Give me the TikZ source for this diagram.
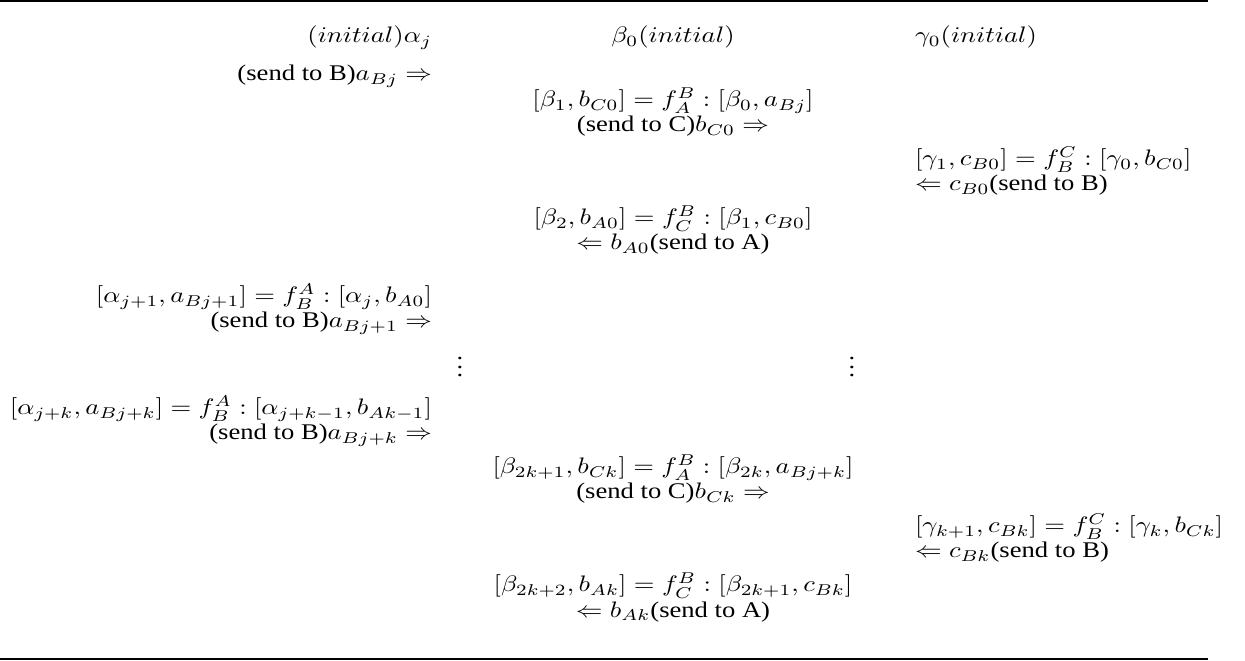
\documentclass[tikz,border=0pt]{standalone}
\usepackage[no-math]{fontspec}
\usepackage{graphicx}
\setmainfont{Liberation Serif}
\newcommand{\sq}[1]{\scalebox{0.95}[0.8]{#1}}
\begin{document}
\begin{tikzpicture}[x=0.357pt,y=-0.357pt,
  every node/.style={inner sep=0pt, outer sep=0pt},
  lft/.style={anchor=base east},
  mid/.style={anchor=base},
  rgt/.style={anchor=base west},
  rulestyle/.style={line width=0.4pt}]
\useasboundingbox (0,0) rectangle (1245,661);
\coordinate (t1) at (0,1); \coordinate (t2) at (1208,1);
\coordinate (u1) at (0,659); \coordinate (u2) at (1208,659);
\draw[rulestyle] (t1) -- (t2);
\draw[rulestyle] (u1) -- (u2);
\node[lft] (a0) at (432,43) {\sq{$(initial)\alpha_j$}};
\node[mid] (b0) at (673,43) {\sq{$\beta_0(initial)$}};
\node[rgt] (c0) at (915,43) {\sq{$\gamma_0(initial)$}};
\node[lft] (a1) at (432,81) {\sq{(send to B)$a_{Bj}\Rightarrow$}};
\node[mid] (b1) at (673,107) {\sq{$[\beta_1,b_{C0}]=f_A^B:[\beta_0,a_{Bj}]$}};
\node[mid] (b2) at (673,132) {\sq{(send to C)$b_{C0}\Rightarrow$}};
\node[rgt] (c1) at (915,166) {\sq{$[\gamma_1,c_{B0}]=f_B^C:[\gamma_0,b_{C0}]$}};
\node[rgt] (c2) at (915,191) {\sq{$\Leftarrow c_{B0}$(send to B)}};
\node[mid] (b3) at (673,225) {\sq{$[\beta_2,b_{A0}]=f_C^B:[\beta_1,c_{B0}]$}};
\node[mid] (b4) at (673,250) {\sq{$\Leftarrow b_{A0}$(send to A)}};
\node[lft] (a2) at (432,303) {\sq{$[\alpha_{j+1},a_{Bj+1}]=f_B^A:[\alpha_j,b_{A0}]$}};
\node[lft] (a3) at (432,328) {\sq{(send to B)$a_{Bj+1}\Rightarrow$}};
\node[mid] (d1) at (460,377) {\sq{$\vdots$}};
\node[mid] (d2) at (852,377) {\sq{$\vdots$}};
\node[lft] (a4) at (432,415) {\sq{$[\alpha_{j+k},a_{Bj+k}]=f_B^A:[\alpha_{j+k-1},b_{Ak-1}]$}};
\node[lft] (a5) at (432,440) {\sq{(send to B)$a_{Bj+k}\Rightarrow$}};
\node[mid] (b5) at (673,474) {\sq{$[\beta_{2k+1},b_{Ck}]=f_A^B:[\beta_{2k},a_{Bj+k}]$}};
\node[mid] (b6) at (673,499) {\sq{(send to C)$b_{Ck}\Rightarrow$}};
\node[rgt] (c3) at (915,533) {\sq{$[\gamma_{k+1},c_{Bk}]=f_B^C:[\gamma_k,b_{Ck}]$}};
\node[rgt] (c4) at (915,558) {\sq{$\Leftarrow c_{Bk}$(send to B)}};
\node[mid] (b7) at (673,592) {\sq{$[\beta_{2k+2},b_{Ak}]=f_C^B:[\beta_{2k+1},c_{Bk}]$}};
\node[mid] (b8) at (673,617) {\sq{$\Leftarrow b_{Ak}$(send to A)}};
\end{tikzpicture}
\end{document}
